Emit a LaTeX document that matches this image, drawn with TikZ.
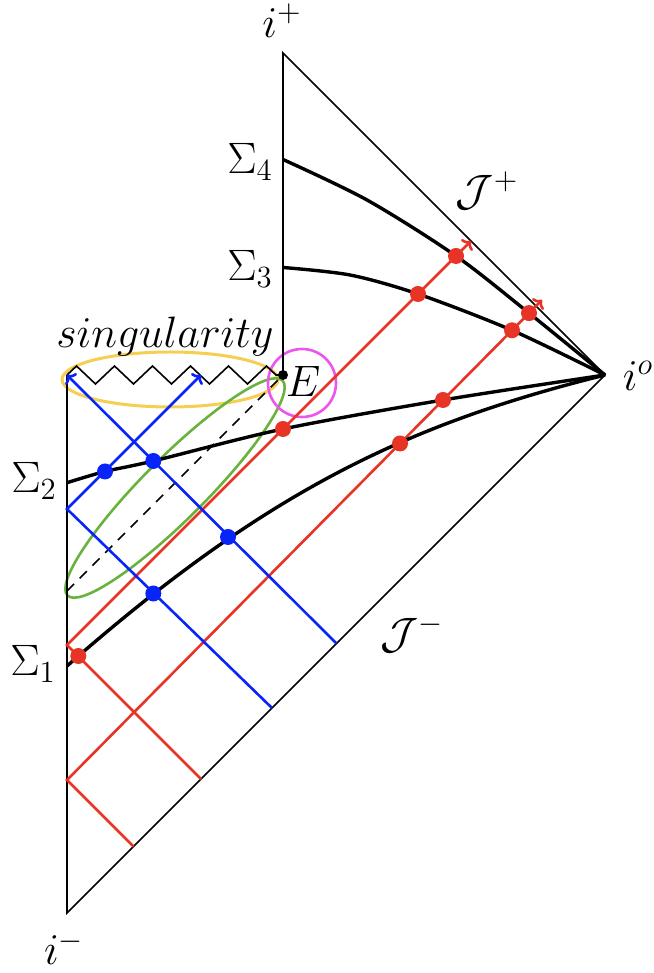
\RequirePackage{fix-cm}
\documentclass[tikz,border=0pt]{standalone}
\usetikzlibrary{decorations.pathmorphing,arrows.meta}
\definecolor{raycol}{RGB}{232,52,38}
\definecolor{bluecol}{RGB}{8,36,248}
\definecolor{horgreen}{RGB}{106,178,62}
\definecolor{singyellow}{RGB}{246,206,82}
\definecolor{ringpink}{RGB}{236,86,236}
\begin{document}
\begin{tikzpicture}[x=0.5pt,y=0.5pt,
    lbl/.style={inner sep=0pt,font=\fontsize{22}{26}\selectfont},
    bound/.style={line width=0.8pt},
    slice/.style={line width=1.7pt},
    rray/.style={raycol,line width=1.3pt,-{To[length=3.5pt,width=8pt]}},
    bray/.style={bluecol,line width=1.3pt,-{To[length=3.5pt,width=8pt]}}]
  \useasboundingbox (-67,-60) rectangle (586,913);
  % --- corners: i^-, i^o, i^+, E and the corner of the singularity ---
  \coordinate (im) at (0,0);
  \coordinate (io) at (538,538);
  \coordinate (ip) at (216,860);
  \coordinate (E)  at (216,538);
  \coordinate (s0) at (0,538);
  \coordinate (h0) at (0,322);
  % --- rings ---
  \draw[singyellow,line width=1.5pt] (103,533.5) ellipse [x radius=108,y radius=27.5];
  \draw[horgreen,line width=1.3pt,rotate around={45:(108,425)}] (108,425) ellipse [x radius=152,y radius=31];
  \draw[ringpink,line width=1.3pt] (235,530) circle (34);
  % --- boundary of the diagram ---
  \draw[bound] (s0) -- (im) -- (io) -- (ip) -- (E);
  \draw[bound,decorate,decoration={zigzag,segment length=19pt,amplitude=4.5pt}] (s0) -- (E);
  \draw[bound,dash pattern=on 5pt off 4pt] (h0) -- (E);
  % --- light rays ---
  \coordinate (rAin) at (134,134);   \coordinate (rA0) at (0,268); \coordinate (rAout) at (404,672);
  \coordinate (rBin) at (66.5,66.5); \coordinate (rB0) at (0,133); \coordinate (rBout) at (475,613);
  \coordinate (bAin) at (269.5,269.5);
  \coordinate (bBin) at (205,205);   \coordinate (bB0) at (0,404); \coordinate (bBout) at (134,538);
  \draw[rray] (rAin) -- (rA0) -- (rAout);
  \draw[rray] (rBin) -- (rB0) -- (rBout);
  \draw[bray] (bAin) -- (s0);
  \draw[bray] (bBin) -- (bB0) -- (bBout);
  % --- Cauchy slices ---
  \draw[slice] (0,247) .. controls (202.8,425.2) and (344,489.6) .. (io);
  \draw[slice] plot[smooth] coordinates {(0,430.3) (38,441.5) (86.3,452) (216,484) (376,513) (538,538)};
  \draw[slice] plot[smooth] coordinates {(216,645.5) (283,638) (351,619) (445,582.7) (538,538)};
  \draw[slice] plot[smooth] coordinates {(216,753.5) (300,713) (389,657) (462,599.9) (538,538)};
  % --- crossings ---
  \foreach \p in {(11.3,257),(216,484),(351,619),(389,657),(333,469.5),(376,513),(445,582.7),(462,599.9)}
    \fill[raycol] \p circle (8);
  \foreach \p in {(38,441.5),(86.3,452),(86.3,319.5),(161,376)}
    \fill[bluecol] \p circle (8);
  \fill (E) circle (5);
  % --- labels ---
  \node[lbl] (lip) at (215,892) {$i^+$};
  \node[lbl] (lim) at (-3,-35) {$i^-$};
  \node[lbl] (lio) at (571,537) {$i^o$};
  \node[lbl] (lJp) at (420,722) {$\mathcal{J}^+$};
  \node[lbl] (lJm) at (345,279) {$\mathcal{J}^-$};
  \node[lbl] (lS4) at (183,751) {$\Sigma_4$};
  \node[lbl] (lS3) at (183,644) {$\Sigma_3$};
  \node[lbl] (lS2) at (-33,432) {$\Sigma_2$};
  \node[lbl] (lS1) at (-34,249) {$\Sigma_1$};
  \node[lbl] (lsing) at (98,576) {$singularity$};
  \node[lbl] (lE) at (236,532) {$E$};
\end{tikzpicture}
\end{document}
